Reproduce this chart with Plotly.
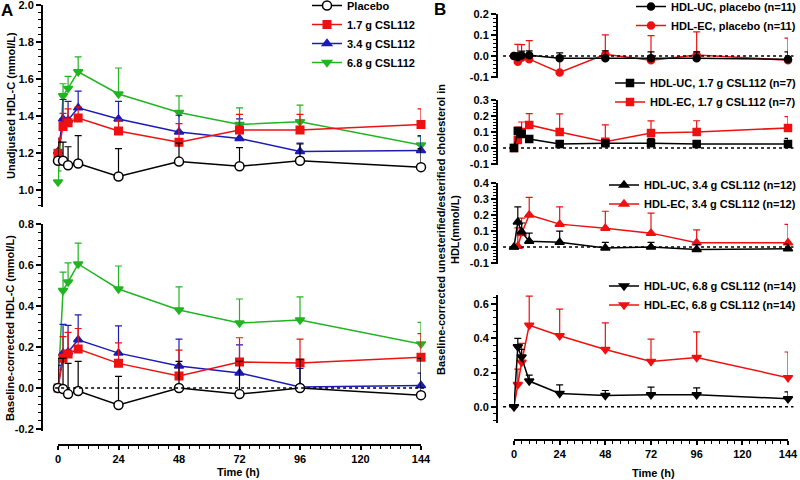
import plotly.graph_objects as go

# ---------------- DATA ----------------
time_h = [0, 2, 4, 8, 24, 48, 72, 96, 144]
x_ticks = [0, 24, 48, 72, 96, 120, 144]

# Panel A (top): unadjusted HDL-C (mmol/L)
placebo_abs = [1.16, 1.16, 1.135, 1.145, 1.075, 1.155, 1.13, 1.16, 1.125]
placebo_abs_sd = [0.10, 0.10, 0.10, 0.15, 0.15, 0.10, 0.10, 0.09, 0.10]
dose17_abs = [1.20, 1.345, 1.365, 1.39, 1.32, 1.26, 1.325, 1.325, 1.355]
dose17_abs_sd = [0.08, 0.07, 0.075, 0.06, 0.06, 0.10, 0.085, 0.085, 0.085]
dose34_abs = [1.21, 1.385, 1.38, 1.445, 1.385, 1.315, 1.28, 1.21, 1.215]
dose34_abs_sd = [0.07, 0.105, 0.10, 0.09, 0.095, 0.09, 0.105, 0.045, 0.08]
dose68_abs = [1.045, 1.51, 1.55, 1.64, 1.52, 1.42, 1.355, 1.37, 1.245]
dose68_abs_sd = [0.06, 0.065, 0.065, 0.08, 0.14, 0.09, 0.09, 0.09, 0.045]

# Panel A (bottom): baseline-corrected HDL-C (mmol/L)
placebo_bc = [0.0, -0.005, -0.03, -0.015, -0.083, 0.0, -0.03, 0.0, -0.035]
placebo_bc_sd = [0.145, 0.15, 0.15, 0.145, 0.14, 0.13, 0.16, 0.14, 0.18]
dose17_bc = [0.0, 0.145, 0.166, 0.19, 0.12, 0.058, 0.127, 0.122, 0.15]
dose17_bc_sd = [0.09, 0.105, 0.105, 0.10, 0.10, 0.127, 0.118, 0.116, 0.115]
dose34_bc = [0.0, 0.17, 0.175, 0.235, 0.17, 0.107, 0.073, 0.005, 0.012]
dose34_bc_sd = [0.11, 0.14, 0.13, 0.122, 0.133, 0.131, 0.137, 0.09, 0.06]
dose68_bc = [0.0, 0.475, 0.517, 0.605, 0.483, 0.38, 0.317, 0.332, 0.215]
dose68_bc_sd = [0.09, 0.09, 0.093, 0.102, 0.112, 0.113, 0.117, 0.112, 0.105]

# Panel B: baseline-corrected HDL-UC / HDL-EC (mmol/L)
uc_placebo = [0.0, -0.005, 0.003, 0.004, -0.01, -0.01, -0.01, -0.01, -0.015]
uc_placebo_sd = [0.0, 0.02, 0.02, 0.02, 0.025, 0.035, 0.03, 0.03, 0.035]
ec_placebo = [0.0, -0.027, -0.008, -0.015, -0.078, 0.008, -0.02, 0.005, -0.02]
ec_placebo_sd = [0.0, 0.082, 0.062, 0.088, 0.06, 0.092, 0.117, 0.11, 0.105]

uc_17 = [0.0, 0.106, 0.088, 0.056, 0.025, 0.03, 0.03, 0.025, 0.025]
uc_17_sd = [0.0, 0.02, 0.02, 0.015, 0.02, 0.02, 0.03, 0.02, 0.035]
ec_17 = [0.0, 0.05, 0.1, 0.144, 0.1, 0.04, 0.094, 0.1, 0.125]
ec_17_sd = [0.0, 0.08, 0.062, 0.07, 0.113, 0.104, 0.075, 0.07, 0.07]

uc_34 = [0.0, 0.157, 0.095, 0.037, 0.03, -0.005, 0.0, -0.015, -0.01]
uc_34_sd = [0.0, 0.093, 0.055, 0.05, 0.07, 0.035, 0.03, 0.03, 0.03]
ec_34 = [0.0, 0.005, 0.085, 0.2, 0.143, 0.118, 0.087, 0.027, 0.027]
ec_34_sd = [0.0, 0.115, 0.095, 0.11, 0.107, 0.105, 0.125, 0.08, 0.115]

uc_68 = [0.0, 0.35, 0.29, 0.15, 0.078, 0.065, 0.07, 0.07, 0.047]
uc_68_sd = [0.0, 0.05, 0.045, 0.035, 0.05, 0.03, 0.045, 0.04, 0.04]
ec_68 = [0.0, 0.13, 0.26, 0.476, 0.415, 0.335, 0.265, 0.288, 0.17]
ec_68_sd = [0.0, 0.09, 0.11, 0.17, 0.155, 0.155, 0.13, 0.15, 0.15]

# ---------------- STYLE ----------------
W, H = 800, 480
RED = '#ee1111'
BLUE = '#1c1cb4'
GREEN = '#22b422'
BLACK = '#000000'
FONT = 'Arial, Liberation Sans, sans-serif'


def fx(px):
    return px / W


def fy(py):
    return 1 - py / H


fig = go.Figure()


def add(x, y, sd, name, color, symbol, xa, ya, legend, show, fill=None, size=8, rank=1):
    fig.add_trace(go.Scatter(
        x=x, y=y, mode='lines+markers', name=name,
        xaxis=xa, yaxis=ya, legend=legend, showlegend=show, legendrank=rank,
        line=dict(color=color, width=1.5),
        marker=dict(symbol=symbol, size=size, color=fill or color,
                    line=dict(color=color, width=1.5)),
        error_y=dict(type='data', array=sd, arrayminus=[0] * len(sd), symmetric=False,
                     color=color, thickness=1.2, width=3.5),
        cliponaxis=False,
    ))


# Panel A top (x2, y2) and bottom (x, y)
for (ya, xa, show, data) in [
    ('y2', 'x2', True, [(dose68_abs, dose68_abs_sd), (dose34_abs, dose34_abs_sd),
                        (dose17_abs, dose17_abs_sd), (placebo_abs, placebo_abs_sd)]),
    ('y', 'x', False, [(dose68_bc, dose68_bc_sd), (dose34_bc, dose34_bc_sd),
                       (dose17_bc, dose17_bc_sd), (placebo_bc, placebo_bc_sd)]),
]:
    add(time_h, data[0][0], data[0][1], '<b>6.8 g CSL112</b>', GREEN, 'triangle-down', xa, ya, 'legend', show, rank=4)
    add(time_h, data[1][0], data[1][1], '<b>3.4 g CSL112</b>', BLUE, 'triangle-up', xa, ya, 'legend', show, rank=3)
    add(time_h, data[2][0], data[2][1], '<b>1.7 g CSL112</b>', RED, 'square', xa, ya, 'legend', show, size=7.5, rank=2)
    add(time_h, data[3][0], data[3][1], '<b>Placebo</b>', BLACK, 'circle', xa, ya, 'legend', show, fill='white', size=9, rank=1)

# Panel B subplots
b_sets = [
    ('x4', 'y4', 'legend2', 'circle', 'placebo (n=11)', uc_placebo, uc_placebo_sd, ec_placebo, ec_placebo_sd, 7),
    ('x5', 'y5', 'legend3', 'square', '1.7 g CSL112 (n=7)', uc_17, uc_17_sd, ec_17, ec_17_sd, 7),
    ('x6', 'y6', 'legend4', 'triangle-up', '3.4 g CSL112 (n=12)', uc_34, uc_34_sd, ec_34, ec_34_sd, 8),
    ('x3', 'y3', 'legend5', 'triangle-down', '6.8 g CSL112 (n=14)', uc_68, uc_68_sd, ec_68, ec_68_sd, 8),
]
for xa, ya, lg, sym, label, uc, ucsd, ec, ecsd, sz in b_sets:
    add(time_h, ec, ecsd, '<b>HDL-EC, ' + label + '</b>', RED, sym, xa, ya, lg, True, size=sz, rank=2)
    add(time_h, uc, ucsd, '<b>HDL-UC, ' + label + '</b>', BLACK, sym, xa, ya, lg, True, size=sz, rank=1)

tickfont = dict(family=FONT, size=11, color='black', weight='bold')


def xaxis_vis(domain, pos):
    return dict(domain=domain, range=[0, 144], anchor='free', position=pos,
                tickvals=x_ticks, ticktext=[str(v) for v in x_ticks],
                ticks='outside', ticklen=4, tickwidth=1.5, tickcolor='black',
                showline=True, linewidth=2, linecolor='black', showgrid=False,
                zeroline=False, tickfont=tickfont, ticklabeloverflow='allow',
                minor=dict(dtick=4, tick0=0, ticks='outside', ticklen=3,
                           tickwidth=1.2, tickcolor='black', showgrid=False))


def xaxis_hidden(domain, anchor):
    return dict(domain=domain, range=[0, 144], anchor=anchor, visible=False, showgrid=False)


def yaxis(domain, rng, vals, minor, pos):
    return dict(domain=domain, range=rng, anchor='free', position=pos,
                tickvals=vals, ticktext=[('%.1f' % v) for v in vals],
                ticks='outside', ticklen=5, tickwidth=1.5, tickcolor='black',
                showline=True, linewidth=2, linecolor='black', showgrid=False,
                zeroline=False, tickfont=tickfont, ticklabeloverflow='allow',
                minor=dict(dtick=minor, tick0=0, ticks='outside', ticklen=3,
                           tickwidth=1.2, tickcolor='black', showgrid=False))


A_dom = [fx(58), fx(421)]
B_dom = [fx(514), fx(788)]

layout = dict(
    width=W, height=H, margin=dict(l=0, r=0, t=0, b=0, autoexpand=False),
    paper_bgcolor='white', plot_bgcolor='rgba(0,0,0,0)',
    font=dict(family=FONT, color='black'),
    xaxis=xaxis_vis(A_dom, fy(445)),
    xaxis2=xaxis_hidden(A_dom, 'y2'),
    xaxis3=xaxis_vis(B_dom, fy(440)),
    xaxis4=xaxis_hidden(B_dom, 'y4'),
    xaxis5=xaxis_hidden(B_dom, 'y5'),
    xaxis6=xaxis_hidden(B_dom, 'y6'),
    yaxis=yaxis([fy(431), fy(224)], [-0.21, 0.8], [-0.2, 0.0, 0.2, 0.4, 0.6, 0.8], 0.04, fx(42)),
    yaxis2=yaxis([fy(207), fy(5)], [0.91, 2.0], [1.0, 1.2, 1.4, 1.6, 1.8, 2.0], 0.04, fx(42)),
    yaxis3=yaxis([fy(423), fy(295)], [-0.095, 0.653], [0.0, 0.2, 0.4, 0.6], 0.04, fx(497)),
    yaxis4=yaxis([fy(77.5), fy(13.5)], [-0.102, 0.202], [-0.1, 0.0, 0.1, 0.2], 0.02, fx(497)),
    yaxis5=yaxis([fy(164.5), fy(99.5)], [-0.102, 0.302], [-0.1, 0.0, 0.1, 0.2, 0.3], 0.02, fx(497)),
    yaxis6=yaxis([fy(263.5), fy(182.5)], [-0.102, 0.402], [-0.1, 0.0, 0.1, 0.2, 0.3, 0.4], 0.02, fx(497)),
)

legfont = dict(family=FONT, size=11, color='black')
layout['legend'] = dict(x=fx(307), y=fy(-9), xanchor='left', yanchor='top',
                        bgcolor='rgba(0,0,0,0)', font=legfont, traceorder='normal')
for name, ytop in [('legend2', -8), ('legend3', 68.5), ('legend4', 170.5), ('legend5', 271.5)]:
    layout[name] = dict(x=fx(802), y=fy(ytop), xanchor='right', yanchor='top',
                        bgcolor='rgba(0,0,0,0)', font=legfont, traceorder='normal')

fig.update_layout(**layout)

# dotted zero reference lines
shapes = [dict(type='line', xref='x domain', yref='y', x0=-0.008, x1=1.01, y0=0, y1=0,
               line=dict(color='black', width=1.5, dash='dot'))]
for xa, ya in [('x4', 'y4'), ('x5', 'y5'), ('x6', 'y6'), ('x3', 'y3')]:
    shapes.append(dict(type='line', xref=xa + ' domain', yref=ya, x0=-0.04, x1=1.02, y0=0, y1=0,
                       line=dict(color='black', width=1.5, dash='dot')))
fig.update_layout(shapes=shapes)

ann_font = dict(family=FONT, size=11, color='black')
annotations = [
    dict(text='<b>Unadjusted HDL-C (mmol/L)</b>', x=fx(11), y=fy(106), textangle=-90),
    dict(text='<b>Baseline-corrected HDL-C (mmol/L)</b>', x=fx(10), y=fy(328), textangle=-90),
    dict(text='<b>Baseline-corrected unesterified/esterified cholesterol in<br>HDL(mmol/L)</b>',
         x=fx(448), y=fy(230), textangle=-90),
    dict(text='<b>Time (h)</b>', x=fx(238), y=fy(472)),
    dict(text='<b>Time (h)</b>', x=fx(653), y=fy(473)),
    dict(text='<b>A</b>', x=fx(7), y=fy(10), font=dict(family=FONT, size=17, color='black')),
    dict(text='<b>B</b>', x=fx(440), y=fy(9), font=dict(family=FONT, size=17, color='black')),
]
for a in annotations:
    a.setdefault('font', ann_font)
    a.update(xref='paper', yref='paper', showarrow=False, xanchor='center', yanchor='middle')
fig.update_layout(annotations=annotations)

fig.write_html('out.html', config={'displayModeBar': False},
               post_script="document.body.style.margin='0px';")
